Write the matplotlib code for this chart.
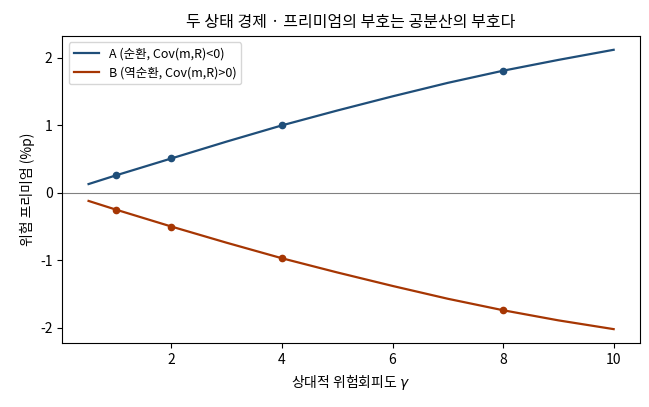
import matplotlib
matplotlib.use("Agg")
import matplotlib.pyplot as plt

plt.rcParams['font.family'] = ['Noto Sans CJK KR', 'DejaVu Sans']
plt.rcParams['axes.unicode_minus'] = False

# 곡선 값
gamma = [0.5, 1, 2, 3, 4, 5, 6, 7, 8, 9, 10]
prem_a = [0.13, 0.26, 0.51, 0.76, 1.00, 1.22, 1.43, 1.63, 1.81, 1.97, 2.12]
prem_b = [-0.12, -0.25, -0.50, -0.74, -0.97, -1.18, -1.38, -1.57, -1.74, -1.89, -2.02]

# 표시 지점
gamma_pts = [1, 2, 4, 8]
pts_a = [0.26, 0.51, 1.00, 1.81]
pts_b = [-0.25, -0.50, -0.97, -1.74]

col_a = "#1f4e79"
col_b = "#a63603"

fig, ax = plt.subplots(figsize=(6.49, 4.07), dpi=100)

ax.plot(gamma, prem_a, color=col_a, lw=1.6, label="A (순환, Cov(m,R)<0)")
ax.plot(gamma, prem_b, color=col_b, lw=1.6, label="B (역순환, Cov(m,R)>0)")
ax.plot(gamma_pts, pts_a, "o", color=col_a, ms=4.5)
ax.plot(gamma_pts, pts_b, "o", color=col_b, ms=4.5)

ax.axhline(0, color="gray", lw=0.8)

ax.set_title("두 상태 경제 · 프리미엄의 부호는 공분산의 부호다", fontsize=11.5)
ax.set_xlabel("상대적 위험회피도 $\\gamma$", fontsize=10)
ax.set_ylabel("위험 프리미엄 (%p)", fontsize=10)
ax.tick_params(labelsize=10)
ax.set_xticks([2, 4, 6, 8, 10])
ax.legend(loc="upper left", fontsize=9)

plt.subplots_adjust(left=0.096, right=0.986, top=0.912, bottom=0.157)
plt.savefig("out.png", dpi=100)
plt.close()
